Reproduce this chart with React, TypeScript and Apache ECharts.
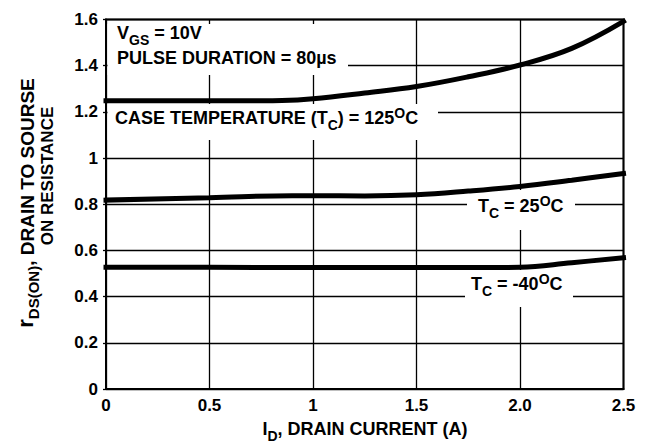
import React, { useEffect, useRef } from "react";
import * as echarts from "echarts";

// ---- data ----
const xTickLabels = ["0", "0.5", "1", "1.5", "2.0", "2.5"];
const yTickLabels = ["0", "0.2", "0.4", "0.6", "0.8", "1", "1.2", "1.4", "1.6"];

const current125 = [0, 0.25, 0.5, 0.75, 0.85, 1.0, 1.25, 1.5, 1.75, 2.0, 2.25, 2.5];
const rds125 = [1.248, 1.248, 1.248, 1.248, 1.249, 1.257, 1.282, 1.31, 1.352, 1.403, 1.475, 1.592];

const current25 = [0, 0.5, 0.9, 1.0, 1.25, 1.5, 1.75, 2.0, 2.25, 2.5];
const rds25 = [0.818, 0.828, 0.837, 0.837, 0.836, 0.841, 0.857, 0.877, 0.904, 0.933];

const currentM40 = [0, 0.5, 1.0, 1.5, 1.9, 2.0, 2.25, 2.5];
const rdsM40 = [0.527, 0.527, 0.526, 0.526, 0.526, 0.527, 0.547, 0.568];

const FONT = "'Liberation Sans', Arial, Helvetica, sans-serif";

const pairs = (xs: number[], ys: number[]) => xs.map((x, i) => [x, ys[i]]);

const base = { fontWeight: "bold", fontFamily: FONT, fill: "#000", verticalAlign: "top" };
const richStyles = {
  m: { ...base, fontSize: 18 },
  sub: { ...base, fontSize: 14, padding: [9, 0, 0, 0] },
  sup: { ...base, fontSize: 14, padding: [-3, 0, 0, 0] },
  ym: { ...base, fontSize: 19 },
  ys: { ...base, fontSize: 15, padding: [8, 0, 0, 0] },
  yr: { ...base, fontSize: 22, padding: [-3, 0, 0, 0] },
  y2: { ...base, fontSize: 17 },
};

function label(id: string, text: string, x: number, y: number, rotation = 0, align = "left") {
  return {
    type: "text",
    id,
    x,
    y,
    rotation,
    z: 20,
    style: {
      text,
      rich: richStyles,
      align,
      verticalAlign: "middle",
      fill: "#000",
      fontSize: 18,
      fontWeight: "bold",
      fontFamily: FONT,
    },
  };
}

function whiteBox(id: string, x1: number, y1: number, x2: number, y2: number) {
  return {
    type: "rect",
    id,
    z: 10,
    shape: { x: x1, y: y1, width: x2 - x1, height: y2 - y1 },
    style: { fill: "#fff" },
  };
}

export default function App() {
  const ref = useRef<HTMLDivElement>(null);
  useEffect(() => {
    if (!ref.current) return;
    document.body.style.margin = "0";
    const chart = echarts.init(ref.current, undefined, { renderer: "svg" });
    const lineStyle = { color: "#000", width: 5, cap: "square" };
    chart.setOption({
      animation: false,
      backgroundColor: "#fff",
      grid: { left: 106, right: 28.5, top: 19.5, bottom: 58, show: false },
      xAxis: {
        type: "value",
        min: 0,
        max: 2.5,
        interval: 0.5,
        axisLine: { show: true, onZero: false, lineStyle: { color: "#000", width: 2 } },
        axisTick: { show: false },
        splitLine: { show: true, lineStyle: { color: "#000", width: 1.3 } },
        axisLabel: {
          color: "#000",
          fontSize: 17,
          fontWeight: "bold",
          fontFamily: FONT,
          margin: 8,
          formatter: (v: number) => xTickLabels[Math.round(v / 0.5)],
        },
      },
      yAxis: {
        type: "value",
        min: 0,
        max: 1.6,
        interval: 0.2,
        axisLine: { show: true, lineStyle: { color: "#000", width: 2 } },
        axisTick: { show: true, length: 3, lineStyle: { color: "#000", width: 1.3 } },
        splitLine: { show: true, lineStyle: { color: "#000", width: 1.3 } },
        axisLabel: {
          color: "#000",
          fontSize: 17,
          fontWeight: "bold",
          fontFamily: FONT,
          margin: 8,
          formatter: (v: number) => yTickLabels[Math.round(v / 0.2)],
        },
      },
      graphic: [
        {
          type: "rect",
          id: "frame",
          z: 5,
          shape: { x: 106, y: 19.5, width: 652 - 28.5 - 106, height: 447 - 58 - 19.5 },
          style: { fill: "none", stroke: "#000", lineWidth: 2 },
        },
        whiteBox("b1", 107.5, 24, 348, 75),
        whiteBox("b2", 107.5, 104, 438, 140),
        whiteBox("b3", 467, 190, 575, 230),
        whiteBox("b4", 465, 270, 573, 307),
        label("t1", "{m|V}{sub|GS}{m| = 10V}", 117, 35),
        label("t2", "{m|PULSE DURATION = 80µs}", 117, 58),
        label("t3", "{m|CASE TEMPERATURE (T}{sub|C}{m|) = 125}{sup|O}{m|C}", 115, 120),
        label("t4", "{m|T}{sub|C}{m| = 25}{sup|O}{m|C}", 478, 208),
        label("t5", "{m|T}{sub|C}{m| = -40}{sup|O}{m|C}", 471, 286),
        label("ty1", "{yr|r}{ys|DS(ON)}{ym|, DRAIN TO SOURSE}", 29, 203, Math.PI / 2, "center"),
        label("ty2", "{y2|ON RESISTANCE}", 47, 176, Math.PI / 2, "center"),
        label("tx", "{m|I}{sub|D}{m|, DRAIN CURRENT (A)}", 365, 431, 0, "center"),
      ],
      series: [
        { type: "line", data: pairs(current125, rds125), smooth: 0.4, showSymbol: false, clip: false, z: 30, lineStyle },
        { type: "line", data: pairs(current25, rds25), smooth: 0.4, showSymbol: false, clip: false, z: 30, lineStyle },
        { type: "line", data: pairs(currentM40, rdsM40), smooth: 0.4, showSymbol: false, clip: false, z: 30, lineStyle },
      ],
    });
    return () => chart.dispose();
  }, []);
  return <div ref={ref} style={{ width: 652, height: 447 }} />;
}
